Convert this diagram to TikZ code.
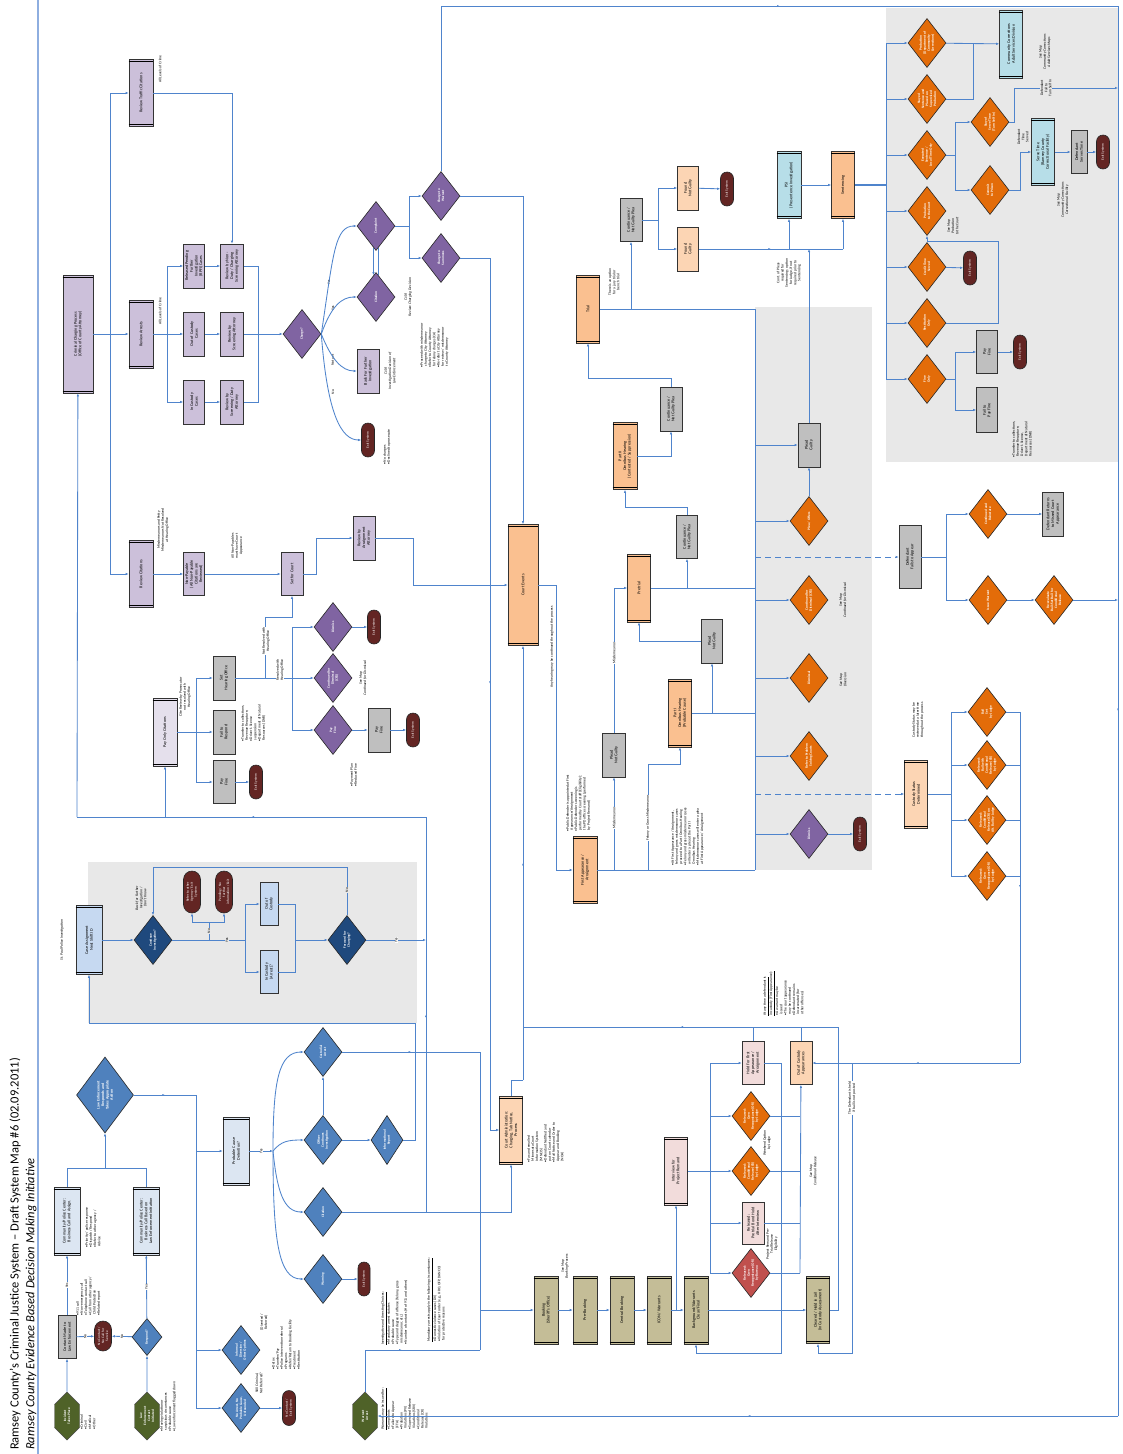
\documentclass[tikz,border=0pt]{standalone}
\usepackage{fontspec}
\setmainfont{Carlito}
\usetikzlibrary{arrows.meta,
	calc,
	positioning,
	shapes.geometric,
	shapes.misc,
	shapes.symbols,
	decorations.markings}

\definecolor{lnc}{HTML}{4F84CC}
\definecolor{tbar}{HTML}{8EAEE0}
\definecolor{lav}{HTML}{CCC0DA}
\definecolor{lav2}{HTML}{E5E0EC}
\definecolor{pur}{HTML}{8064A2}
\definecolor{blu}{HTML}{4F81BD}
\definecolor{dblu}{HTML}{1F497D}
\definecolor{lblu}{HTML}{C6D9F1}
\definecolor{pblu}{HTML}{DCE6F2}
\definecolor{cyanb}{HTML}{B7DEE8}
\definecolor{exitc}{HTML}{632523}
\definecolor{grn}{HTML}{4F6228}
\definecolor{org}{HTML}{E36C09}
\definecolor{lorg}{HTML}{FAC090}
\definecolor{porg}{HTML}{FCD5B4}
\definecolor{pnk}{HTML}{F2DCDB}
\definecolor{redd}{HTML}{C0504D}
\definecolor{tanc}{HTML}{C4BD97}
\definecolor{gry}{HTML}{BFBFBF}
\definecolor{bgc}{HTML}{E8E8E8}

\newcommand\boxfont{\fontsize{4.2}{4.7}\selectfont}
\newcommand\diafont{\bfseries\fontsize{3.5}{4}\selectfont}
\newcommand\notefont{\fontsize{3.7}{4.2}\selectfont}
\newcommand\exitfont{\fontsize{3.5}{4}\selectfont}
\newcommand\titlefont{\fontsize{12.5}{15}\selectfont}
% bars of a predefined process box
\newcommand\pbar[1]{\draw[line width=.5pt] ($(#1.north east)!2.5pt!(#1.north west)$) -- ($(#1.south east)!2.5pt!(#1.south west)$)
	($(#1.north west)!2.5pt!(#1.north east)$) -- ($(#1.south west)!2.5pt!(#1.south east)$);}

\tikzset{
	every node/.style={rotate=90},
	conn/.style={draw=lnc, line width=.85pt},
	arr/.style={conn, -{Latex[length=3pt,width=2.4pt]}},
	dline/.style={conn, dash pattern=on 6pt off 4pt},
	midarr/.style={postaction={decorate}, decoration={markings, mark=at position .5 with {\arrow{Latex[length=2.5pt,width=2pt]}}}},
	sz/.style 2 args={minimum height=#1pt, minimum width=#2pt},
	pbox/.style={draw=black!80, line width=.6pt, align=center, inner sep=.5pt, font=\boxfont},
	dia/.style={diamond, draw=black!85, line width=.6pt, align=center, inner sep=0pt, aspect=1.28, minimum width=49pt, minimum height=38pt, text=white, font=\diafont},
	exitn/.style={rounded rectangle, draw=black!85, line width=.6pt, fill=exitc, text=white, font=\exitfont, minimum width=34pt, minimum height=13pt, inner sep=0pt, align=center},
	hexn/.style={signal, signal to=east and west, draw=black!70, fill=grn, text=white, font=\diafont, minimum width=48pt, minimum height=25pt, inner sep=0pt, align=center},
	note/.style={font=\notefont, align=left, inner sep=0pt},
	lbl/.style={font=\notefont, fill=white, inner sep=.4pt, align=center},
}

\begin{document}
\begin{tikzpicture}[x=1pt,y=-1pt]
\useasboundingbox (0,0) rectangle (1122,1454);
\fill[white] (0,0) rectangle (1122,1454);
\fill[bgc] (88,862) rectangle (417,1023);
\fill[bgc] (755,307) rectangle (872,870);
\fill[bgc] (886,8) rectangle (1118,462);
\draw[tbar, line width=2.5pt] (38,0) -- (38,1454);

\node[anchor=west, inner sep=0pt, font=\titlefont] (ttl) at (15,1450) {Ramsey County's Criminal Justice System – Draft System Map \#6 (02.09.2011)};
\node[anchor=west, inner sep=0pt, font=\titlefont\itshape] (sub) at (31,1450) {Ramsey County Evidence Based Decision Making Initiative};

% law enforcement contact
\node[hexn] (incid) at (67,1416) {Incident\\Takes Place};
\node[note, anchor=north west] at (80,1430) {• Criminal\\• Civil\\• Medical\\• Other};
\node[pbox, sz={18}{43}, fill=gry] (contact) at (67,1337) {Contact Made to\\Law Enforcement};
\node[exitn, sz={17}{30}] (nocall) at (103,1336) {No Contact /\\No Call for\\Service};
\node[dia, fill=blu, minimum width=37pt, minimum height=30pt] (respond) at (147,1337) {Respond?};
\node[hexn] (leinit) at (147,1416) {Law\\Enforcement\\Contact\\Initiated};
\node[note, anchor=north west] at (160,1432) {• Moving violation or\\ \ \ suspicious circumstances\\• Probable cause\\• Law enforcement flagged down};
\node[pbox, sz={26}{68}, fill=pblu] (cc1) at (67,1221) {Community/Police Center:\\Business Call and Assign.}; \pbar{cc1}
\node[pbox, sz={26}{68}, fill=pblu] (cc2) at (146,1221) {Community/Police Center:\\Business Call Based on\\Law Enforcement Initiation}; \pbar{cc2}
\node[note, anchor=north west] at (85,1248) {• Priority / police response\\• Dispatch / Respond\\• Refer to other agency /\\ \ \ Advise};
\node[note, anchor=north west] at (76,1316) {• 911 call\\• Non-emergency call\\• Telephone contact call\\• Call from other agency /\\ \ \ Child Protection\\• Related report};
\node[dia, fill=blu, minimum width=76pt, minimum height=57pt, font=\bfseries\fontsize{3.9}{4.4}\selectfont] (lear) at (105,1095) {Law Enforcement\\Responds and\\Takes Appropriate\\Action};
\node[pbox, sz={26}{68}, fill=pblu] (pcd) at (236,1151) {Probable Cause\\Detention?}; \pbar{pcd}
\node[dia, fill=blu] (infdiv) at (241,1350) {Informal\\Diversion /\\Other Options};
\node[dia, fill=blu] (noarr) at (241,1408) {No Arrest, No\\Probable Cause,\\Unfounded};
\node[note, align=center] at (264,1322) {(Diverted /\\Referred)};
\node[note, anchor=north west] at (272,1370) {• Detox\\• Transfer/Pay\\• Police intervention referral\\• Programs\\• Refer/Return to Booking Facility\\• Treatment\\• Restitution};
\node[note, align=center] at (259,1383) {Still Criminal,\\Not Referred?};
\node[exitn, sz={13}{35}] (exit2) at (289,1408) {No Contact /\\Exit System};
\node[dia, fill=blu] (custarr) at (323,1052) {Custodial\\Arrest};
\node[dia, fill=blu] (offcont) at (323,1140) {Officer\\Continues\\Investigation};
\node[dia, fill=blu] (citat) at (323,1212) {Citation};
\node[dia, fill=blu] (warn) at (323,1279) {Warning};
\node[dia, fill=blu, minimum height=32pt] (inforep) at (387,1140) {Informational\\Report};
\node[exitn, sz={12}{34}] (exit3) at (364,1279) {Exit System};
\node[hexn] (warrant) at (365,1416) {Warrant\\Arrest};
\node[note, anchor=north west] at (381,1430) {\underline{Warrants may be issued for:}\\• Complaints\\• Failure to Appear\\ \ \ (FTA)\\• Probation\\ \ \ Violations (PV)\\• Supervised Release\\ \ \ Violations (SRV)\\• Conditional\\ \ \ Release (CR)\\ \ \ Violations};
\node[note, anchor=north west] at (381,1345) {\underline{Investigative and Arresting Choices:}\\• Mandatory arrest statutes\\• Probable cause\\• Type and degree of offense (felony, gross\\ \ \ misdemeanor, etc.)\\• Number of contacts (\# of 911 and others)};
\node[note, anchor=north west] at (427,1342) {\underline{Mandatory arrests apply in the following circumstances:}\\• Domestic violence cases (DV)\\• Violation of Court order (e.g., HRO, OFP, DANCO)\\ \ \ for protective reasons};

% St. Paul police investigation
\node[pbox, sz={26}{69}, fill=lblu] (caseas) at (89,940) {Case Assignment\\Next Shift ID}; \pbar{caseas}
\node[note, font=\notefont\itshape] at (62,940) {St. Paul Police Investigation};
\node[dia, fill=dblu] (contin) at (153,940) {Continue\\Investigation?};
\node[note, font=\notefont\itshape, align=center] at (141,898) {Back for Further\\Investigation /\\Don't Know};
\node[exitn, sz={17}{42}] (refex) at (192,892) {Refer to other\\Agency / Exit\\System};
\node[exitn, sz={17}{42}] (pendex) at (224,892) {Pending / No\\further\\information / Exit};
\node[pbox, sz={18}{43}, fill=lblu] (outc) at (269,904) {Out of\\Custody};
\node[pbox, sz={18}{43}, fill=lblu] (inc) at (269,972) {In Custody\\(Arrest)?};
\node[dia, fill=dblu] (fwdch) at (347,940) {Forward for\\Charging?};

% charging
\node[pbox, sz={30}{118}, fill=lav] (ccp) at (78,334) {Criminal Charging Process\\(Office of County Attorney)}; \pbar{ccp}
\node[pbox, sz={24}{67}, fill=lav] (revtraf) at (141,93) {Review Traffic Citations}; \pbar{revtraf}
\node[note] at (160,69) {All Levels of Crime};
\node[pbox, sz={24}{68}, fill=lav] (revarr) at (141,334) {Review Arrests}; \pbar{revarr}
\node[note] at (160,311) {All Levels of Crime};
\node[pbox, sz={24}{67}, fill=lav] (revcit) at (141,574) {Review Citations}; \pbar{revcit}
\node[note, align=center] at (163,530) {Misdemeanors and Petty\\Misdemeanors Not Resolved\\at Hearing Office};
\node[pbox, sz={21}{44}, fill=lav] (rpfi) at (194,266) {Released Pending\\Further\\Investigation\\(RPFI) Cases};
\node[pbox, sz={21}{44}, fill=lav] (ooc) at (194,334) {Out of Custody\\Cases};
\node[pbox, sz={21}{44}, fill=lav] (icc) at (194,402) {In Custody\\Cases};
\node[pbox, sz={23}{44}, fill=lav] (rv1) at (232,266) {Review by Non-\\Duty / Charging\\Screening Attorney};
\node[pbox, sz={23}{44}, fill=lav] (rv2) at (232,334) {Review by\\Screening Attorney};
\node[pbox, sz={23}{44}, fill=lav] (rv3) at (232,402) {Review by\\Screening / Duty\\Attorney};
\node[dia, fill=pur] (charge) at (302,334) {Charge?};
\node[dia, fill=pur] (compl) at (376,226) {Complaint};
\node[dia, fill=pur] (citn) at (376,297) {Citation};
\node[pbox, sz={22}{44}, fill=lav] (bffi) at (368,371) {Back For Further\\Investigation};
\node[exitn] (exit6) at (368,440) {Exit System};
\node[note, font=\notefont\itshape, align=center] at (408,297) {CJ/JA\\Review Charging Decision};
\node[note, font=\notefont\itshape, align=center] at (390,371) {CJ/JA\\Investigation Decision of\\Law Enforcement};
\node[note, anchor=north west] at (383,465) {• No charges\\• Declined to prosecute};
\node[note, anchor=north west] at (420,368) {• Proceed with misdemeanor\\ \ \ charge to City Attorney\\• Refer to County Attorney\\ \ \ for felony charges (CA)\\• Re-refer to City Attorney\\ \ \ for review / misdemeanor\\ \ \ to County Attorney};
\node[dia, fill=pur] (chwar) at (441,196) {Charge to\\Warrant};
\node[dia, fill=pur] (chsum) at (441,258) {Charge to\\Summons};
\node[lbl] at (329,282) {Yes};
\node[lbl] at (333,308) {Yes};
\node[lbl] at (333,360) {Not yet};
\node[lbl] at (333,392) {No};

% citations
\node[pbox, sz={21}{43}, fill=lav] (nonpay) at (194,574) {Non-Payable\\(All Non-Payable\\Citations are\\Reviewed)};
\node[note, align=center] at (237,546) {All Non-Payables\\must have Court\\Appearance};
\node[pbox, sz={22}{43}, fill=lav] (setc) at (292,574) {Set for Court};
\node[pbox, sz={22}{44}, fill=lav] (revarg) at (364,538) {Review by\\Arraignment\\Attorney};
\node[pbox, sz={24}{68}, fill=lav2] (payonly) at (165,732) {Pay Only Citations}; \pbar{payonly}
\node[note, align=center] at (185,697) {Cite Review by Prosecutor\\not resolved with\\Hearing Office};
\node[pbox, sz={22}{44}, fill=gry] (sethear) at (224,678) {Set\\Hearing Office};
\node[pbox, sz={22}{44}, fill=gry] (failr) at (224,732) {Fail to\\Respond};
\node[pbox, sz={22}{43}, fill=gry] (payf1) at (224,782) {Pay\\Fine};
\node[exitn] (exit7) at (256,782) {Exit System};
\node[note, anchor=north west] at (241,742) {• Transfer to collections,\\ \ \ Revenue Recapture,\\• Driver's license\\ \ \ suspension\\• Department of Natural\\ \ \ Resources (DNR)};
\node[dia, fill=pur] (dism1) at (333,627) {Dismiss};
\node[dia, fill=pur] (cfd1) at (333,678) {Continued for\\Dismissal\\(CFD)};
\node[dia, fill=pur] (payd) at (333,730) {Pay\\Fine};
\node[exitn] (exit8) at (374,627) {Exit System};
\node[pbox, sz={22}{44}, fill=gry] (payf2) at (379,730) {Pay\\Fine};
\node[exitn] (exit9) at (413,730) {Exit System};
\node[note, font=\notefont\itshape, align=center] at (363,678) {See Map\\Continued for Dismissal};
\node[note, anchor=north west] at (350,787) {• Payment Plan\\• Reduced Fine};

% court process
\node[pbox, sz={30}{121}, fill=lorg] (courtev) at (523,585) {Court Events}; \pbar{courtev}
\node[note] at (552,647) {Any hearing may be continued throughout the process};
\node[pbox, sz={24}{67}, fill=lorg] (firstapp) at (585,870) {First Appearance /\\Arraignment}; \pbar{firstapp}
\node[note, anchor=north west] at (566,832) {• Public Defender is appointed at First\\ \ \ Appearance/Arraignment\\• Public Defender screening is\\ \ \ performed by Court staff (Eligibility);\\ \ \ the PD office screening (performed\\ \ \ by Project Remand)};
\node[pbox, sz={23}{44}, fill=gry] (png1) at (614,755) {Plead\\Not Guilty};
\node[pbox, sz={23}{68}, fill=lorg] (omni1) at (680,713) {Part I\\Omnibus Hearing\\(Probable Cause)}; \pbar{omni1}
\node[pbox, sz={21}{44}, fill=gry] (png2) at (712,641) {Plead\\Not Guilty};
\node[pbox, sz={23}{68}, fill=lorg] (pretr) at (639,588) {Pretrial}; \pbar{pretr}
\node[pbox, sz={21}{43}, fill=gry] (cont1) at (687,537) {Continuance /\\Not Guilty Plea};
\node[pbox, sz={24}{67}, fill=lorg] (omni2) at (625,456) {Part II\\Omnibus Hearing\\(Contested / Suppression)}; \pbar{omni2}
\node[pbox, sz={22}{44}, fill=gry] (cont2) at (671,409) {Continuance /\\Not Guilty Plea};
\node[pbox, sz={23}{68}, fill=lorg] (trial) at (588,309) {Trial}; \pbar{trial}
\node[note, align=center] at (614,282) {There is an option\\for a jury trial or\\bench trial};
\node[pbox, sz={22}{43}, fill=gry] (cont3) at (631,220) {Continuance /\\Not Guilty Plea};
\node[pbox, sz={21}{44}, fill=porg] (fng) at (688,188) {Found\\Not Guilty};
\node[pbox, sz={21}{44}, fill=porg] (fg) at (688,249) {Found\\Guilty};
\node[exitn] (exit10) at (727,189) {Exit System};
\node[pbox, sz={24}{67}, fill=cyanb] (psi) at (789,185) {PSI\\(Presentence Investigation)}; \pbar{psi}
\node[pbox, sz={23}{67}, fill=lorg] (sent) at (843,185) {Sentencing}; \pbar{sent}
\node[note, align=center] at (789,273) {Cont. of Pleas\\required for\\Sentencing; option\\for Judge, if not\\required prior to\\Sentencing};
\node[pbox, sz={22}{44}, fill=gry] (pleadg) at (809,445) {Plead\\Guilty};
\node[note, anchor=north west] at (671,866) {• At First Appearance / Arraignment,\\ \ \ felony and gross misdemeanor cases\\ \ \ proceed to a Part I Omnibus Hearing\\• Felony and gross misdemeanor cases\\ \ \ will enter a plea at the Part I\\ \ \ Omnibus Hearing\\• Misdemeanor cases will enter a plea\\ \ \ at First Appearance / Arraignment};

\coordinate (g0) at (755,309);
\coordinate (g1) at (755,870);
\draw[conn] (g0) -- (g1);
\foreach \y/\t [count=\i] in {521/{Plea / Offers}, 600/{Continued for\\Dismissal (CFD)}, 678/{Dismissal}, 756/{Refer to Problem\\Solving Courts}}{
	\node[dia, fill=org] (cd\i) at (809,\y) {\t};
	\coordinate (cj\i) at (755,\y);
	\draw[arr] (cj\i) -- (cd\i);
}
\node[dia, fill=pur] (dism2) at (809,834) {Dismiss};
\node[exitn] (exit11) at (860,834) {Exit System};
\node[note, font=\notefont\itshape, align=center] at (843,600) {See Map\\Continued for Dismissal};
\node[note, font=\notefont\itshape, align=center] at (843,680) {See Map\\Diversion};

% failure to appear and custody status
\node[pbox, sz={22}{63}, fill=gry] (dfta) at (910,557) {Defendant\\Fails to Appear};
\node[pbox, sz={23}{68}, fill=porg] (csd) at (916,794) {Custody Status\\Determined}; \pbar{csd}
\node[note, align=center] at (918,720) {Custody Status may be\\reviewed at a later time\\throughout the process};
\node[dia, fill=org] (contr) at (988,514) {Continued and\\Reinstate};
\node[pbox, sz={21}{44}, fill=gry] (defret) at (1053,514) {Defendant Returns\\to Missed Court\\Appearance};
\node[dia, fill=org] (issw) at (988,600) {Issue Warrant};
\node[dia, fill=org] (rebail) at (1054,600) {Re-evaluate\\Bail/Set Bail for\\Conditional\\Release};

% sentencing options
\coordinate (sn0) at (886,185);
\draw[conn] (886,43) -- (886,379);
\foreach \t [count=\i] in {{Probation\\(Department of\\Community\\Corrections)}, {Stayed\\Sentence and\\Placed on\\Supervised\\Probation}, {Executed\\Sentence /\\Local Time Only}, {Probation\\to the Court}, {Credit Time\\Served}, {Restitution\\Only}, {Fine\\Only}}{
	\node[dia, fill=org] (so\i) at (927,{43+56*(\i-1)}) {\t};
	\coordinate (sj\i) at (886,{43+56*(\i-1)});
	\draw[arr] (sj\i) -- (so\i);
}
\node[dia, fill=org] (stay) at (990,122) {Stay of\\Serve Time\\(Turn Self In)};
\node[dia, fill=org] (commit) at (990,190) {Commit\\to Prison};
\node[pbox, sz={23}{68}, fill=cyanb] (ccasd) at (1011,44) {Community Corrections\\Adult Services Division}; \pbar{ccasd}
\node[pbox, sz={23}{67}, fill=cyanb] (servet) at (1043,152) {Serve Time\\(Ramsey County\\Correctional Facility)}; \pbar{servet}
\node[pbox, sz={16}{43}, fill=gry] (dst) at (1079,152) {Defendant\\Serves Time};
\node[exitn] (exit12) at (1103,152) {Exit System};
\node[exitn] (exit13) at (970,268) {Exit System};
\node[pbox, sz={21}{43}, fill=gry] (payf3) at (987,352) {Pay\\Fine};
\node[pbox, sz={21}{45}, fill=gry] (failpay) at (987,410) {Fail to\\Pay Fine};
\node[exitn] (exit14) at (1020,352) {Exit System};
\node[note, anchor=north west] at (1012,458) {• Transfer to collections,\\ \ \ Revenue Recapture,\\ \ \ Driver's license,\\ \ \ Department of Natural\\ \ \ Resources (DNR)};
\node[note, font=\notefont\itshape, align=center] at (1045,52) {See Map\\Community Corrections\\Adult Services Maps};
\node[note, font=\notefont\itshape, align=center] at (953,226) {See Map\\Probation\\to the Court};
\node[note, font=\notefont\itshape, align=center] at (1063,200) {See Map\\Community Corrections\\Correctional Facility};
\node[note, align=center] at (1023,137) {Defendant\\Time\\Served};

% booking and release
\node[pbox, sz={23}{68}, fill=porg] (cadm) at (511,1130) {Court Administration:\\Charging, Tab Notice,\\Process}; \pbar{cadm}
\node[note, anchor=north west] at (527,1163) {• Fax and emailed\\ \ \ Minnesota Court\\ \ \ Information System\\ \ \ (MNCIS)\\• Defendant Notified and\\ \ \ put on Court calendar\\• Mail Notice and Order to\\ \ \ Appear and Booking\\ \ \ (NOA)};
\foreach \x/\t/\n in {546/{Booking\\(Sheriff's Office)}/bk1, 585/{Pre-Booking}/bk2, 622/{Central Booking}/bk3, 659/{ICON / Warrants}/bk4, 696/{Background/Warrants\\Clear/Final}/bk5}{
	\node[pbox, sz={24}{68}, fill=tanc] (\n) at (\x,1310) {\t}; \pbar{\n}
}
\node[note, font=\notefont\itshape, align=center] at (565,1266) {See Map\\Booking Process};
\node[pbox, sz={23}{68}, fill=pnk] (intv) at (676,1171) {Interview for\\Project Remand}; \pbar{intv}
\node[pbox, sz={22}{43}, fill=pnk] (hold) at (753,1063) {Hold For First\\Appearance /\\Arraignment};
\node[dia, fill=org] (or1) at (751,1116) {Released:\\Own\\Recognizance (OR)\\by Judge};
\node[dia, fill=org] (cr1) at (751,1171) {Released:\\Conditional\\Release (CR)\\by Judge};
\node[pbox, sz={22}{42}, fill=pnk] (prb) at (753,1223) {Released:\\Pretrial Bond Hold\\After Interview};
\node[dia, fill=redd] (orb) at (751,1273) {Released:\\Own\\Recognizance (OR)\\by Bureau};
\node[pbox, sz={22}{43}, fill=porg] (ooca) at (801,1063) {Out of Custody\\Appearances};
\node[pbox, sz={23}{67}, fill=tanc] (clr) at (818,1310) {Cleared / Hold in Jail\\(In Custody Assessment)}; \pbar{clr}
\node[note, align=center] at (767,1143) {Weekend Option\\by Judge};
\node[note, align=center] at (772,1244) {Project Remand Pre-\\Trial Release\\Eligibility};
\node[note, font=\notefont\itshape, align=center] at (813,1171) {See Map\\Conditional Release};
\node[note, anchor=north west] at (763,1016) {\underline{At any time a defendant is}\\\underline{in custody (First Appearance):}\\• A warrant may be\\ \ \ issued\\• The court appearance\\ \ \ may be continued\\• Defendant remains\\ \ \ incarcerated (for\\ \ \ other offenses)};

% connectors: law enforcement
\draw[arr] (incid) -- (contact);
\draw[arr] (contact) -- node[lbl]{No} (nocall);
\draw[arr] (respond) -- node[lbl]{No} (nocall);
\draw[arr] (leinit) -- (respond);
\draw[arr] (contact) -- node[lbl]{Yes} (cc1);
\draw[arr] (respond) -- node[lbl]{Yes} (cc2);
\coordinate (lej) at (105,1168);
\draw[conn] (cc1) |- (lej) -| (cc2);
\draw[arr] (lej) -- (lear);
\coordinate (lr0) at (196,1095);
\coordinate (lr1) at (196,1408);
\draw[conn, midarr] (lear) -- (lr0);
\draw[conn] (lr0) -- (lr1);
\draw[arr] (lr0 |- pcd) -- (pcd);
\draw[arr] (lr0 |- infdiv) -- (infdiv);
\draw[arr] (lr1) -- (noarr);
\draw[arr] (noarr) -- (exit2);
\coordinate (fan1) at (273,1151);
\draw[arr] (pcd) -- node[lbl]{Yes} (fan1);
\draw[arr] (fan1) .. controls +(0,-70) and +(-25,0) .. (custarr.north);
\draw[arr] (fan1) .. controls +(8,-10) and +(-15,0) .. (offcont.north);
\draw[arr] (fan1) .. controls +(4,40) and +(-20,0) .. (citat.north);
\draw[arr] (fan1) .. controls +(0,90) and +(-25,0) .. (warn.north);
\draw[arr] (offcont) -- (custarr);
\draw[arr] (offcont) -- (inforep);
\draw[arr] (warn) -- (exit3);
\coordinate (gb1) at (415,1023);
\draw[arr] (inforep) -| (gb1) -| (caseas);
\coordinate (ca1) at (480,1052);
\coordinate (ca2) at (480,1350);
\coordinate (bk0) at (480,1310);
\draw[conn, midarr] (custarr) -- (ca1);
\draw[conn] (ca1) -- (ca2);
\draw[conn, midarr] (warrant) |- (ca2);
\draw[arr] (bk0) -- (bk1);
\draw[arr] (bk1) -- (bk2);
\draw[arr] (bk2) -- (bk3);
\draw[arr] (bk3) -- (bk4);
\draw[arr] (bk4) -- (bk5);
\draw[arr] (bk5) -- (clr);
\coordinate (ivj) at (676,1310);
\draw[arr] (ivj) -- (intv);
\draw[arr] (citat) -| (cadm);
\coordinate (up1) at (426,1212);
\coordinate (up2) at (426,817);
\coordinate (up3) at (77,817);
\coordinate (po1) at (165,817);
\draw[conn, midarr] (up1) -- (up2);
\draw[conn, midarr] (up2) -- (up3);
\draw[arr] (up3) -- (ccp);
\draw[arr] (po1) -- (payonly);

% connectors: investigation
\draw[arr] (caseas) -- (contin);
\coordinate (cn1) at (209,940);
\coordinate (cn2) at (245,940);
\coordinate (cn3) at (209,922);
\coordinate (cn4) at (295,940);
\draw[conn] (contin) -- (cn1) -- node[lbl, fill=bgc]{Yes} (cn2);
\draw[conn] (cn1) -- (cn3);
\draw[arr] (cn3) -| (refex);
\draw[arr] (cn3) -| (pendex);
\node[lbl, fill=bgc] at (209,931) {No};
\draw[arr] (cn2) |- (outc);
\draw[arr] (cn2) |- (inc);
\draw[conn] (outc) -| (cn4);
\draw[conn] (inc) -| (cn4);
\draw[arr] (cn4) -- (fwdch);
\draw[arr] (fwdch) |- (153,867) -- (contin);
\node[lbl, fill=bgc] at (347,890) {No};
\draw[arr] (fwdch) -- node[lbl]{Yes} (fwdch -| up1);

% connectors: charging
\coordinate (tr0) at (110,334);
\coordinate (tr1) at (110,93);
\coordinate (tr2) at (110,574);
\draw[conn] (ccp) -- (tr0);
\draw[conn] (tr1) -- (tr2);
\draw[arr] (tr1) -- (revtraf);
\draw[arr] (tr0) -- (revarr);
\draw[arr] (tr2) -- (revcit);
\draw[arr] (revtraf) -| (rv1);
\coordinate (ra0) at (167,334);
\draw[conn] (revarr) -- (ra0);
\draw[arr] (ra0) |- (rpfi);
\draw[arr] (ra0) -- (ooc);
\draw[arr] (ra0) |- (icc);
\draw[arr] (rpfi) -- (rv1);
\draw[arr] (ooc) -- (rv2);
\draw[arr] (icc) -- (rv3);
\coordinate (rj) at (258,334);
\draw[conn] (rv1) -| (rj);
\draw[conn] (rv3) -| (rj);
\draw[conn] (rv2) -- (rj);
\draw[arr] (rj) -- (charge);
\draw[arr] (charge.south) .. controls +(12,-80) and +(-22,0) .. (compl.north);
\draw[arr] (charge.south) .. controls +(10,-28) and +(-15,0) .. (citn.north);
\draw[arr] (charge.south) .. controls +(10,25) and +(-15,0) .. (bffi.north);
\draw[arr] (charge.south) .. controls +(6,80) and +(-20,0) .. (exit6.north);
\draw[arr] ([xshift=-2.5pt,yshift=3pt]compl.west) -- ([xshift=-2.5pt,yshift=-3pt]citn.east);
\draw[conn] ([xshift=2.5pt,yshift=3pt]compl.west) -- ([xshift=2.5pt,yshift=-3pt]citn.east);
\coordinate (cw0) at (409,226);
\draw[conn] (compl) -- (cw0);
\draw[arr] (cw0) |- (chwar);
\draw[arr] (cw0) |- (chsum);
\coordinate (top1) at (441,6);
\coordinate (top2) at (1118,6);
\coordinate (rb) at (1118,1416);
\draw[conn] (chwar) -- (top1);
\draw[conn, midarr] (top1) -- (top2);
\draw[conn, midarr] (top2) -- (rb);
\draw[arr, midarr] (rb) -- (warrant);
\draw[arr] (chwar) -| (courtev);
\coordinate (cs1) at (490,1130);
\draw[arr, midarr] (chsum) -| (cs1) -- (cadm);
\coordinate (ce1) at (523,1080);
\coordinate (ce2) at (523,1027);
\coordinate (ce3) at (838,1027);
\draw[conn] (cadm) |- (ce1);
\draw[arr, midarr] (ce1) -- (courtev);
\draw[conn, midarr] (ce3) -- (ce2);
\draw[conn] (hold) -- (hold |- ce2);
\draw[conn] (ooca) -- (ooca |- ce2);
\draw[conn] (clr) -| (ce3);

% connectors: citations
\draw[arr] (revcit) -- (nonpay);
\draw[arr] (nonpay) -- (setc);
\coordinate (sc1) at (316,538);
\draw[arr] (setc) -| (sc1) -- (revarg);
\coordinate (ra2) at (413,585);
\draw[arr] (revarg) -| (ra2) -- (courtev);
\coordinate (po0) at (196,732);
\draw[conn] (payonly) -- (po0);
\draw[arr] (po0) |- (sethear);
\draw[arr] (po0) -- (failr);
\draw[arr] (po0) |- (payf1);
\draw[arr] (payf1) -- (exit7);
\coordinate (sh1) at (265,678);
\coordinate (sh2) at (292,678);
\coordinate (sh3) at (292,617);
\draw[conn] (sethear) -- (sh2);
\draw[arr] (sh1) |- (sh3) -- (setc);
\draw[arr] (sh2) |- (dism1);
\draw[arr] (sh2) -- (cfd1);
\draw[arr] (sh2) |- (payd);
\node[lbl] at (266,641) {Not Resolved with\\Hearing Office};
\node[lbl] at (280,670) {Resolved with\\Hearing Office};
\draw[arr] (dism1) -- (exit8);
\draw[arr] (payd) -- (payf2);
\draw[arr] (payf2) -- (exit9);

% connectors: court
\coordinate (fa1) at (556,585);
\draw[arr] (courtev) -- (fa1) |- (firstapp);
\draw[conn] (firstapp) -- (g1);
\coordinate (fa2) at (614,870);
\coordinate (fa3) at (648,870);
\coordinate (om0) at (680,764);
\draw[arr] (fa2) -- (png1);
\draw[arr] (fa3) |- (om0) -- (omni1);
\node[lbl] at (614,818) {Misdemeanor};
\node[lbl] at (648,818) {Felony or Gross Misdemeanor};
\draw[arr] (png1) |- (pretr);
\node[lbl] at (614,653) {Misdemeanor};
\draw[conn] (pretr) -- (pretr -| g0);
\draw[arr] (pretr -| cont1) -- (cont1);
\coordinate (c1a) at (625,507);
\draw[arr] (cont1) |- (c1a) -- (omni2);
\draw[conn] (omni1) -- (omni1 -| g0);
\draw[arr] (omni1 -| png2) -- (png2);
\draw[arr] (png2) -| (pretr);
\draw[arr] (omni2) -| (cont2);
\coordinate (c2a) at (588,378);
\draw[arr] (cont2) |- (c2a) -- (trial);
\draw[conn] (trial) -- (g0);
\draw[arr] (trial -| cont3) -- (cont3);
\coordinate (c3j) at (658,220);
\draw[conn] (cont3) -- (c3j);
\draw[arr] (c3j) |- (fng);
\draw[arr] (c3j) |- (fg);
\draw[arr] (fng) -- (exit10);
\coordinate (fg1) at (843,249);
\draw[conn, midarr] (fg) -- (fg1);
\draw[arr] (fg1) -- (sent);
\draw[arr] (fg -| psi) -- (psi);
\draw[arr] (psi) -- (sent);
\draw[arr] (pleadg) -- (pleadg |- fg);
\draw[arr] (pleadg -| g0) -- (pleadg);
\draw[arr] (cd1) -- (pleadg);
\draw[arr] (g1 |- dism2) -- (dism2);
\draw[arr] (dism2) -- (exit11);
\coordinate (dj1) at (755,557);
\coordinate (dj2) at (755,794);
\draw[dline, -{Latex[length=3pt,width=2.4pt]}] (dj1) -- (dfta);
\draw[dline, -{Latex[length=3pt,width=2.4pt]}] (dj2) -- (csd);
\coordinate (df0) at (946,557);
\draw[conn] (dfta) -- (df0);
\draw[arr] (df0) |- (contr);
\draw[arr] (df0) |- (issw);
\draw[arr] (contr) -- (defret);
\draw[arr] (issw) -- (rebail);
\draw[arr] (rebail) -- (rebail -| top2);

% custody status
\coordinate (cs0) at (951,794);
\draw[conn] (csd) -- (cs0);
\draw[conn] (951,712) -- (951,876);
\foreach \y/\t [count=\i] in {712/{Bail\\Set\\by Judge}, 765/{Released:\\Bail with\\Conditional\\Release (CR)\\by Judge}, 820/{Released:\\Conditional\\Release (CR) on\\Alt. Bail by Judge}, 876/{Released:\\Own\\Recognizance (OR)\\by Judge}}{
	\node[dia, fill=org] (bl\i) at (987,\y) {\t};
	\coordinate (bi\i) at (951,\y);
	\coordinate (bo\i) at (1020,\y);
	\draw[arr] (bi\i) -- (bl\i);
	\draw[conn] (bl\i) -- (bo\i);
}
\coordinate (bo0) at (1020,1063);
\draw[conn, midarr] (bo1) -- (bo0);
\draw[arr, midarr] (bo0) -- (ooca);
\coordinate (hb1) at (852,1063);
\coordinate (hb2) at (852,1353);
\draw[arr] (hb1) -- (hb2) -| (clr);
\node[lbl] at (852,1098) {The Defendant is held\\if bail is not posted};

% connectors: sentencing
\draw[conn, line width=1.4pt] (sent) -- (sn0);
\draw[arr] (so1) -- (ccasd);
\coordinate (pj) at (973,44);
\draw[conn] (so2) -| (pj);
\coordinate (ex0) at (955,155);
\draw[conn] (so3) -- (ex0);
\draw[arr] (ex0) |- (stay);
\draw[arr] (ex0) |- (commit);
\coordinate (ts1) at (1014,88);
\coordinate (ts2) at (1118,88);
\draw[arr] (stay) -| (ts1) -- (ts2);
\node[lbl, fill=bgc] at (1046,88) {Defendant\\Fail to\\Turn Self In};
\coordinate (cm1) at (1020,152);
\draw[arr] (commit) -| (cm1) -- (servet);
\draw[arr] (servet) -- (dst);
\draw[arr] (dst) -- (exit12);
\draw[arr] (so5) -- (exit13);
\coordinate (rs1) at (998,241);
\draw[arr] (so6) -| (rs1) -| (so4);
\coordinate (fn0) at (955,379);
\draw[conn] (so7) -- (fn0);
\draw[arr] (fn0) |- (payf3);
\draw[arr] (fn0) |- (failpay);
\draw[arr] (payf3) -- (exit14);

% connectors: release decisions
\coordinate (iv0) at (710,1171);
\coordinate (iv1) at (710,1063);
\coordinate (iv2) at (710,1273);
\draw[conn] (intv) -- (iv0);
\draw[conn] (iv1) -- (iv2);
\draw[arr] (iv1) -- (hold);
\draw[arr] (iv1 |- or1) -- (or1);
\draw[arr] (iv0) -- (cr1);
\draw[arr] (iv1 |- prb) -- (prb);
\draw[arr] (iv2) -- (orb);
\coordinate (h1) at (781,1063);
\coordinate (h2) at (781,1353);
\draw[arr] (hold) -- (h1) -- (h2) -| (bk5);
\coordinate (oc1) at (800,1273);
\draw[arr] (oc1) -- (ooca);
\draw[conn] (or1) -- (or1 -| oc1);
\draw[conn] (cr1) -- (cr1 -| oc1);
\draw[conn] (prb) -- (prb -| oc1);
\draw[conn] (orb) -- (oc1);
\end{tikzpicture}
\end{document}
